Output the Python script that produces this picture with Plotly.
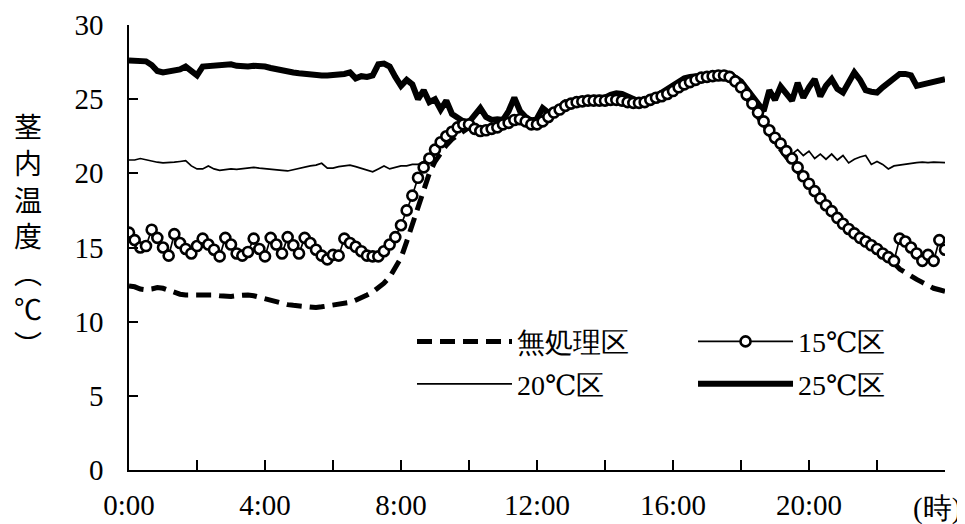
import plotly.graph_objects as go

# time grid: readings every 10 minutes from 0:00 to 24:00 (hours)
times = [i / 6 for i in range(145)]

untreated = [
    12.4, 12.35, 12.2, 12.15, 12.2, 12.3, 12.25, 12.1, 11.95, 11.85,
    11.8, 11.8, 11.8, 11.8, 11.85, 11.8, 11.75, 11.7, 11.7, 11.75,
    11.8, 11.8, 11.75, 11.65, 11.5, 11.4, 11.3, 11.2, 11.15, 11.1,
    11.05, 11.0, 10.95, 10.95, 11.0, 11.05, 11.1, 11.15, 11.2, 11.3,
    11.45, 11.6, 11.8, 12.0, 12.25, 12.6, 13.0, 13.6, 14.3, 15.4,
    16.6, 17.8, 19.0, 20.0, 20.8, 21.4, 21.9, 22.3, 22.6, 22.9,
    23.1, 23.0, 22.9, 22.9, 23.0, 23.1, 23.2, 23.35, 23.5, 23.5,
    23.4, 23.3, 23.35, 23.55, 23.8, 24.0, 24.2, 24.4, 24.55, 24.65,
    24.75, 24.8, 24.85, 24.85, 24.85, 24.9, 24.9, 24.85, 24.8, 24.75,
    24.7, 24.75, 24.9, 25.05, 25.15, 25.3, 25.45, 25.65, 25.85, 26.0,
    26.15, 26.3, 26.4, 26.45, 26.5, 26.45, 26.3, 26.0, 25.7, 25.1,
    24.4, 23.8, 23.2, 22.6, 22.1, 21.6, 21.1, 20.6, 20.1, 19.6,
    19.1, 18.6, 18.1, 17.7, 17.3, 16.9, 16.5, 16.15, 15.8, 15.5,
    15.2, 14.95, 14.7, 14.45, 14.2, 13.95, 13.55, 13.3, 13.05, 12.85,
    12.65, 12.45, 12.25, 12.15, 12.05,
]

t15 = [
    16.0, 15.5, 15.0, 15.1, 16.2, 15.65, 15.0, 14.45, 15.9, 15.3,
    14.9, 14.6, 15.1, 15.6, 15.2, 14.85, 14.4, 15.65, 15.2, 14.6,
    14.45, 14.7, 15.6, 14.9, 14.4, 15.65, 15.2, 14.6, 15.7, 15.15,
    14.6, 15.65, 15.3, 14.85, 14.45, 14.2, 14.5, 14.45, 15.6, 15.3,
    15.05, 14.75, 14.45, 14.4, 14.4, 14.75, 15.2, 15.7, 16.5, 17.5,
    18.5, 19.7, 20.4, 21.0, 21.6, 22.1, 22.5, 22.8, 23.1, 23.3,
    23.3, 23.0, 22.85, 22.9, 23.0, 23.1, 23.3, 23.4, 23.6, 23.65,
    23.5, 23.3, 23.3, 23.5, 23.8, 24.1, 24.3, 24.55, 24.7, 24.8,
    24.85, 24.9, 24.9, 24.9, 24.9, 24.95, 24.95, 24.9, 24.8, 24.75,
    24.75, 24.8, 24.95, 25.1, 25.2, 25.35, 25.55, 25.8, 26.0, 26.15,
    26.3, 26.45, 26.5, 26.55, 26.6, 26.6, 26.5, 26.2, 25.8, 25.3,
    24.7, 24.1, 23.5, 22.9, 22.4, 22.0, 21.5, 21.0, 20.4, 19.8,
    19.3, 18.8, 18.3, 17.85, 17.45, 17.0, 16.6, 16.25, 15.95, 15.65,
    15.4, 15.15, 14.9, 14.6, 14.35, 14.1, 15.6, 15.4, 15.0, 14.6,
    14.1, 14.5, 14.1, 15.5, 14.85,
]

t20 = [
    20.9, 20.9, 21.0, 20.9, 20.8, 20.75, 20.7, 20.7, 20.75, 20.8,
    20.85, 20.5, 20.3, 20.3, 20.5, 20.3, 20.2, 20.25, 20.3, 20.27,
    20.3, 20.35, 20.4, 20.35, 20.3, 20.27, 20.25, 20.2, 20.16, 20.25,
    20.35, 20.4, 20.5, 20.55, 20.68, 20.35, 20.35, 20.45, 20.5, 20.55,
    20.45, 20.35, 20.2, 20.1, 20.3, 20.5, 20.3, 20.4, 20.5, 20.5,
    20.6, 20.6, 20.8, 21.2, 21.6, 22.0, 22.4, 22.7, 23.0, 23.2,
    23.3, 23.2, 23.0, 23.1, 23.3, 23.2, 23.4, 23.6, 23.8, 23.6,
    23.4, 23.2, 23.4, 23.7, 23.9, 24.2, 24.4, 24.6, 24.7, 24.75,
    24.8, 24.9, 25.0, 25.0, 25.0, 25.1, 25.05, 24.95, 24.9, 24.85,
    24.85, 24.95, 25.1, 25.2, 25.3, 25.5, 25.7, 25.95, 26.1, 26.25,
    26.35, 26.5, 26.6, 26.6, 26.65, 26.6, 26.5, 26.2, 25.7, 25.1,
    24.4, 23.8, 23.1, 22.5, 22.0, 21.6, 21.7, 21.3, 21.6, 21.2,
    21.5, 21.0, 21.3, 20.95, 21.3, 20.9, 21.2, 20.7, 20.95, 21.1,
    21.2, 20.6, 20.8, 20.6, 20.3, 20.5, 20.55, 20.65, 20.7, 20.72,
    20.75, 20.72, 20.75, 20.75, 20.72,
]

t25 = [
    27.6, 27.6, 27.6, 27.55, 27.3, 26.9, 26.8, 26.85, 26.9, 27.0,
    27.2, 26.95, 26.6, 27.2, 27.25, 27.3, 27.35, 27.4, 27.35, 27.25,
    27.2, 27.2, 27.25, 27.25, 27.2, 27.1, 27.0, 26.95, 26.9, 26.8,
    26.75, 26.7, 26.6, 26.6, 26.6, 26.6, 26.6, 26.65, 26.7, 26.8,
    26.4, 26.55, 26.5, 26.6, 27.35, 27.4, 27.2, 26.5, 25.9, 26.3,
    26.0, 25.0, 25.6, 24.8, 25.0, 24.3, 24.9, 24.0, 23.7, 23.5,
    23.45, 23.9, 24.4, 23.8, 23.6, 23.65, 23.6, 24.2, 25.1, 24.2,
    23.8, 23.55, 23.7, 24.4, 24.1, 24.1, 24.5, 24.8, 24.8, 24.9,
    25.0, 25.0, 25.1, 25.1, 25.1, 25.3, 25.4, 25.35, 25.2, 25.0,
    24.85, 24.9, 25.15, 25.2, 25.45, 25.7, 25.95, 26.25, 26.4, 26.5,
    26.55, 26.6, 26.65, 26.7, 26.75, 26.75, 26.7, 26.5, 26.2, 25.7,
    25.2, 24.6, 24.2, 25.6, 24.95, 25.85, 25.3, 24.9, 26.1, 25.1,
    25.8, 26.35, 25.2, 25.9, 26.35, 25.7, 25.45, 26.1, 26.8, 26.3,
    25.6, 25.5, 25.45, 25.8, 26.1, 26.4, 26.7, 26.7, 26.6, 25.9,
    26.0, 26.1, 26.2, 26.3, 26.35,
]

tick_vals = [0, 2, 4, 6, 8, 10, 12, 14, 16, 18, 20, 22, 24]
tick_text = ["0:00", "", "4:00", "", "8:00", "", "12:00", "", "16:00", "", "20:00", "", ""]
y_ticks = [0, 5, 10, 15, 20, 25, 30]

names = ["無処理区", "15℃区", "20℃区", "25℃区"]

SERIF = "'Liberation Serif', 'Times New Roman', 'DejaVu Serif', serif"
CJK = "'Noto Sans CJK JP', sans-serif"

fig = go.Figure()
fig.add_trace(go.Scatter(
    x=times, y=t25, name=names[3], mode="lines",
    line=dict(color="black", width=6), legend="legend2",
    legendgroup="d", legendrank=2))
fig.add_trace(go.Scatter(
    x=times, y=t20, name=names[2], mode="lines",
    line=dict(color="black", width=1.7), legend="legend",
    legendgroup="c", legendrank=2))
fig.add_trace(go.Scatter(
    x=times, y=untreated, name=names[0], mode="lines",
    line=dict(color="black", width=5, dash="15px,8px"), legend="legend",
    legendgroup="a", legendrank=1))
fig.add_trace(go.Scatter(
    x=times, y=t15, name=names[1], mode="lines+markers",
    line=dict(color="black", width=1.7),
    marker=dict(symbol="circle", size=10, color="white",
                line=dict(color="black", width=2.6)),
    legend="legend2", legendgroup="b", legendrank=1))

legend_common = dict(
    font=dict(family=SERIF, size=28, color="black"),
    bgcolor="rgba(0,0,0,0)", borderwidth=0,
    orientation="v", itemwidth=95, tracegroupgap=3,
    xanchor="left", yanchor="top", itemclick=False,
)

fig.update_layout(
    width=957, height=516,
    margin=dict(l=121, r=20, t=17, b=54, autoexpand=False),
    paper_bgcolor="white", plot_bgcolor="white",
    font=dict(family=SERIF, color="black"),
    showlegend=True,
    legend=dict(x=0.3468, y=0.3445, **legend_common),
    legend2=dict(x=0.6912, y=0.3445, **legend_common),
    xaxis=dict(
        range=[0, 24], tickmode="array", tickvals=tick_vals, ticktext=tick_text,
        ticks="inside", ticklen=10, tickwidth=1.5, tickcolor="black",
        showline=True, linecolor="black", linewidth=1.5,
        showgrid=False, zeroline=False, ticklabelstandoff=8,
        tickfont=dict(family=SERIF, size=29, color="black"),
    ),
    yaxis=dict(
        range=[0, 30], tickmode="array", tickvals=y_ticks,
        ticks="inside", ticklen=9, tickwidth=1.5, tickcolor="black",
        showline=True, linecolor="black", linewidth=1.5,
        showgrid=False, zeroline=False, ticklabelstandoff=18,
        tickfont=dict(family=SERIF, size=29, color="black"),
    ),
)

fig.add_annotation(
    text="茎<br>内<br>温<br>度<br>︵<br>℃<br>︶",
    xref="paper", yref="paper", x=-0.1238, y=0.528,
    xanchor="center", yanchor="middle", showarrow=False,
    font=dict(family=CJK, size=28, color="black"),
)
fig.add_annotation(
    text="(時)", xref="x", yref="paper", x=24, y=0,
    xanchor="right", yanchor="top", xshift=18, yshift=-20,
    showarrow=False, font=dict(family=SERIF, size=29, color="black"),
)

fig.write_html("out.html")
